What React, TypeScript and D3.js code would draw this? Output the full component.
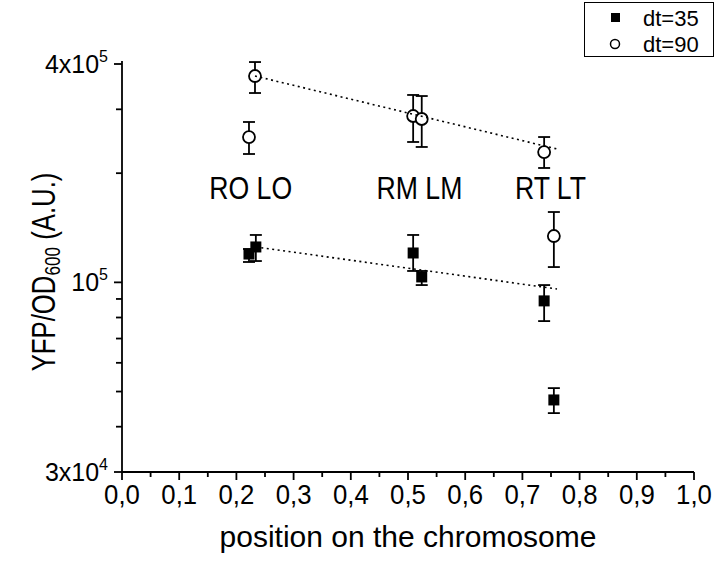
import React, { useEffect, useRef } from "react";
import * as d3 from "d3";

// dt=35 (filled squares)
const positions35 = [0.222, 0.234, 0.509, 0.524, 0.738, 0.755];
const values35 = [119700, 125200, 120500, 103500, 88900, 47400];
const errLow35 = [113800, 114500, 107500, 98300, 78200, 43600];
const errHigh35 = [123600, 135100, 135100, 107500, 98300, 51100];

// dt=90 (open circles)
const positions90 = [0.2325, 0.222, 0.509, 0.524, 0.738, 0.755];
const values90 = [370600, 251600, 287500, 282100, 228700, 134200];
const errLow90 = [332700, 225900, 243800, 236200, 206700, 110200];
const errHigh90 = [405000, 276800, 328600, 326400, 251600, 156300];

// dotted fits (start / end)
const fitX35 = [0.234, 0.7605];
const fitY35 = [125200, 95900];
const fitX90 = [0.2325, 0.7605];
const fitY90 = [370600, 233200];

// annotations
const annotations = ["RO LO", "RM LM", "RT LT"];
const annotationX = [0.225, 0.52, 0.749];
const annotationY = 170000;

// axis ticks
const xTicks = d3.range(0, 11).map((i) => i / 10);
const xMinorTicks = d3.range(0, 10).map((i) => i / 10 + 0.05);
const yMajorTicks = [400000, 100000, 30000];
const yMajorBase = ["4x10", "10", "3x10"];
const yMajorExp = ["5", "5", "4"];
const yMinorTicks = [300000, 200000, 90000, 80000, 70000, 60000, 50000, 40000];

const legendLabels = ["dt=35", "dt=90"];

const App = (): JSX.Element => {
    const ref = useRef<SVGSVGElement>(null);
    const width = 716;
    const height = 561;
    const font = "'Liberation Sans', Arial, sans-serif";

    useEffect(() => {
        if (!ref.current) return;
        const svg = d3.select(ref.current);
        svg.selectAll("*").remove();

        const x = d3.scaleLinear().domain([0, 1]).range([122, 694]);
        const y = d3.scaleLog().domain([30000, 400000]).range([472, 64]);
        const x0 = x(0);
        const yBottom = y(30000);
        const sw = 1.8;

        // axes lines
        svg.append("line")
            .attr("x1", x0).attr("x2", x0)
            .attr("y1", y(400000) - 3).attr("y2", yBottom)
            .attr("stroke", "black").attr("stroke-width", sw);
        svg.append("line")
            .attr("x1", x0).attr("x2", x(1))
            .attr("y1", yBottom).attr("y2", yBottom)
            .attr("stroke", "black").attr("stroke-width", sw);

        // x ticks
        const gx = svg.append("g").attr("stroke", "black").attr("stroke-width", sw);
        gx.selectAll("line.major").data(xTicks).join("line")
            .attr("class", "major")
            .attr("x1", (d) => x(d)).attr("x2", (d) => x(d))
            .attr("y1", yBottom).attr("y2", yBottom + 8);
        gx.selectAll("line.minor").data(xMinorTicks).join("line")
            .attr("class", "minor")
            .attr("x1", (d) => x(d)).attr("x2", (d) => x(d))
            .attr("y1", yBottom).attr("y2", yBottom + 5);
        svg.append("g").selectAll("text").data(xTicks).join("text")
            .attr("transform", (d) => `translate(${x(d)},504) scale(0.92,1)`)
            .attr("text-anchor", "middle")
            .attr("font-family", font).attr("font-size", 28)
            .text((d) => d3.format(".1f")(d).replace(".", ","));

        // y ticks
        const gy = svg.append("g").attr("stroke", "black").attr("stroke-width", sw);
        gy.selectAll("line.major").data(yMajorTicks).join("line")
            .attr("class", "major")
            .attr("x1", x0 - 8).attr("x2", x0)
            .attr("y1", (d) => y(d)).attr("y2", (d) => y(d));
        gy.selectAll("line.minor").data(yMinorTicks).join("line")
            .attr("class", "minor")
            .attr("x1", x0 - 6).attr("x2", x0)
            .attr("y1", (d) => y(d)).attr("y2", (d) => y(d));
        const yl = svg.append("g").selectAll("text").data(yMajorTicks).join("text")
            .attr("x", 108).attr("y", (d) => y(d) + 9)
            .attr("text-anchor", "end")
            .attr("font-family", font).attr("font-size", 25);
        yl.append("tspan").text((d, i) => yMajorBase[i]);
        yl.append("tspan").attr("dy", -11).attr("font-size", 16).text((d, i) => yMajorExp[i]);

        // axis titles
        svg.append("text")
            .attr("x", x(0.5)).attr("y", 547)
            .attr("text-anchor", "middle")
            .attr("font-family", font).attr("font-size", 30)
            .text("position on the chromosome");
        const yt = svg.append("text")
            .attr("transform", "translate(55,272) rotate(-90) scale(0.78,1)")
            .attr("text-anchor", "middle")
            .attr("font-family", font).attr("font-size", 33);
        yt.append("tspan").text("YFP/OD");
        yt.append("tspan").attr("dy", 5).attr("font-size", 22).text("600");
        yt.append("tspan").attr("dy", -5).text(" (A.U.)");

        // annotations
        svg.append("g").selectAll("text").data(annotations).join("text")
            .attr("transform", (d, i) => `translate(${x(annotationX[i])},${y(annotationY)}) scale(0.86,1)`)
            .attr("text-anchor", "middle")
            .attr("font-family", font).attr("font-size", 31)
            .text((d) => d);

        // error bars
        const errorBars = (pos: number[], lo: number[], hi: number[]) => {
            const g = svg.append("g").attr("stroke", "black").attr("stroke-width", sw);
            pos.forEach((p, i) => {
                const cx = x(p);
                g.append("line").attr("x1", cx).attr("x2", cx).attr("y1", y(lo[i])).attr("y2", y(hi[i]));
                g.append("line").attr("x1", cx - 6).attr("x2", cx + 6).attr("y1", y(lo[i])).attr("y2", y(lo[i]));
                g.append("line").attr("x1", cx - 6).attr("x2", cx + 6).attr("y1", y(hi[i])).attr("y2", y(hi[i]));
            });
        };
        errorBars(positions35, errLow35, errHigh35);
        errorBars(positions90, errLow90, errHigh90);

        // markers
        svg.append("g").selectAll("rect").data(values35).join("rect")
            .attr("x", (d, i) => x(positions35[i]) - 5.5)
            .attr("y", (d) => y(d) - 5.5)
            .attr("width", 11).attr("height", 11)
            .attr("fill", "black");
        svg.append("g").selectAll("circle").data(values90).join("circle")
            .attr("cx", (d, i) => x(positions90[i]))
            .attr("cy", (d) => y(d))
            .attr("r", 6)
            .attr("fill", "white").attr("stroke", "black").attr("stroke-width", sw);

        // dotted fits
        const fit = (xs: number[], ys: number[]) => {
            const pts: [number, number][] = xs.map((v, i) => [x(v), y(ys[i])]);
            svg.append("path")
                .attr("d", d3.line()(pts))
                .attr("fill", "none")
                .attr("stroke", "black").attr("stroke-width", 1.6)
                .attr("stroke-dasharray", "2,3.5");
        };
        fit(fitX35, fitY35);
        fit(fitX90, fitY90);

        // legend
        const lg = svg.append("g");
        lg.append("rect")
            .attr("x", 584.5).attr("y", 2.5).attr("width", 129).attr("height", 54)
            .attr("fill", "white").attr("stroke", "black").attr("stroke-width", 1);
        lg.append("rect").attr("x", 611).attr("y", 13).attr("width", 9).attr("height", 9).attr("fill", "black");
        lg.append("circle").attr("cx", 615).attr("cy", 44).attr("r", 4.5)
            .attr("fill", "white").attr("stroke", "black").attr("stroke-width", 1.5);
        lg.selectAll("text").data(legendLabels).join("text")
            .attr("x", 643).attr("y", (d, i) => 26 + i * 26)
            .attr("font-family", font).attr("font-size", 22)
            .text((d) => d);
    }, []);

    return (
        <svg
            ref={ref}
            width={width}
            height={height}
            viewBox={`0 0 ${width} ${height}`}
            style={{ position: "absolute", left: 0, top: 0, background: "white" }}
        />
    );
};

export default App;
